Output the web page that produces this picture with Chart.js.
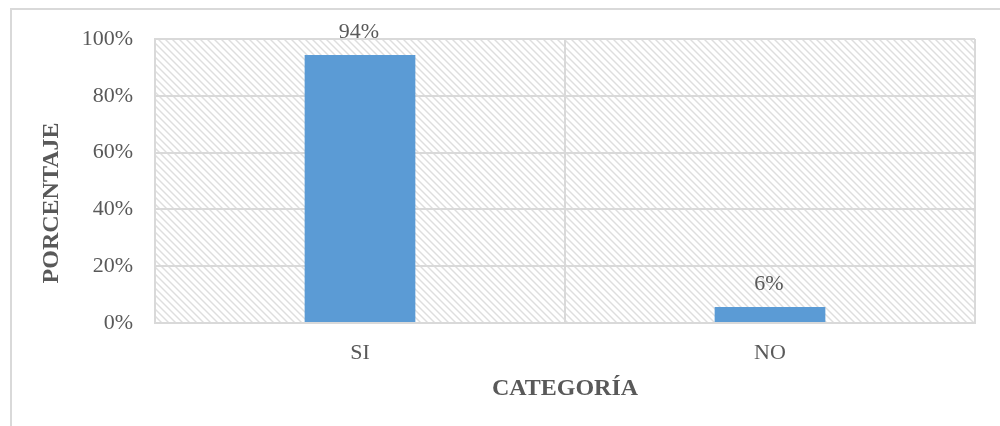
<!DOCTYPE html>
<html>
<head>
<meta charset="utf-8">
<script src="https://cdn.jsdelivr.net/npm/chart.js@4/dist/chart.umd.min.js"></script>
<style>
html,body{margin:0;padding:0;background:#fff;}
canvas{display:block;}
</style>
</head>
<body>
<canvas id="c" width="1000" height="426"></canvas>
<script>
const categories = ['SI', 'NO'];
const values = [94.4, 5.6];
const valueLabels = ['94%', '6%'];
const yTicks = [0, 20, 40, 60, 80, 100];
const xTitle = 'CATEGORÍA';
const yTitle = 'PORCENTAJE';

const TEXT = '#595959';
const GRID = '#d9d9d9';
const FONT = '"Liberation Serif", "Times New Roman", serif';

function makePattern(ctx) {
  const n = 7;
  const t = document.createElement('canvas');
  t.width = n; t.height = n;
  const g = t.getContext('2d');
  g.fillStyle = '#ffffff';
  g.fillRect(0, 0, n, n);
  g.strokeStyle = '#dedede';
  g.lineWidth = 1.4;
  for (const k of [-n, 0, n]) {
    g.beginPath();
    g.moveTo(k - 1, -1);
    g.lineTo(k + n + 1, n + 1);
    g.stroke();
  }
  return ctx.createPattern(t, 'repeat');
}

const decor = {
  id: 'decor',
  beforeDraw(chart) {
    const ctx = chart.ctx;
    const a = chart.chartArea;
    ctx.save();
    ctx.fillStyle = '#fff';
    ctx.fillRect(0, 0, chart.width, chart.height);
    ctx.strokeStyle = GRID;
    ctx.lineWidth = 2;
    ctx.beginPath();
    ctx.moveTo(11, chart.height);
    ctx.lineTo(11, 9);
    ctx.lineTo(chart.width, 9);
    ctx.stroke();
    ctx.fillStyle = makePattern(ctx);
    ctx.fillRect(a.left, a.top, a.right - a.left, a.bottom - a.top);
    ctx.restore();
  },
  afterDatasetsDraw(chart) {
    const ctx = chart.ctx;
    const a = chart.chartArea;
    ctx.save();
    ctx.fillStyle = TEXT;
    ctx.font = '22px ' + FONT;
    ctx.textAlign = 'center';
    ctx.textBaseline = 'middle';
    chart.getDatasetMeta(0).data.forEach((bar, i) => {
      ctx.fillText(valueLabels[i], bar.x - 1, bar.y - 23);
    });
    ctx.font = 'bold 24px ' + FONT;
    ctx.fillText(xTitle, (a.left + a.right) / 2, 389);
    ctx.translate(52, 203);
    ctx.rotate(-Math.PI / 2);
    ctx.fillText(yTitle, 0, 0);
    ctx.restore();
  }
};

new Chart(document.getElementById('c'), {
  type: 'bar',
  data: {
    labels: categories,
    datasets: [{
      data: values,
      backgroundColor: '#5b9bd5',
      borderWidth: 0,
      barPercentage: 0.54,
      categoryPercentage: 0.5
    }]
  },
  options: {
    responsive: false,
    animation: false,
    devicePixelRatio: 1,
    layout: { padding: { left: 0, right: 25, top: 39, bottom: 0 } },
    plugins: { legend: { display: false }, tooltip: { enabled: false } },
    scales: {
      x: {
        grid: { color: GRID, lineWidth: 2, drawTicks: false, offset: true },
        border: { color: GRID, width: 2 },
        ticks: { color: TEXT, font: { family: FONT, size: 22 }, padding: 17 },
        afterFit(s) { s.height = 103; }
      },
      y: {
        min: 0, max: 100,
        afterBuildTicks(s) { s.ticks = yTicks.map(v => ({ value: v })); },
        grid: { color: GRID, lineWidth: 2, drawTicks: false },
        border: { color: GRID, width: 2 },
        ticks: { color: TEXT, font: { family: FONT, size: 22 }, padding: 22, callback: v => v + '%' },
        afterFit(s) { s.width = 155; }
      }
    }
  },
  plugins: [decor]
});
</script>
</body>
</html>
